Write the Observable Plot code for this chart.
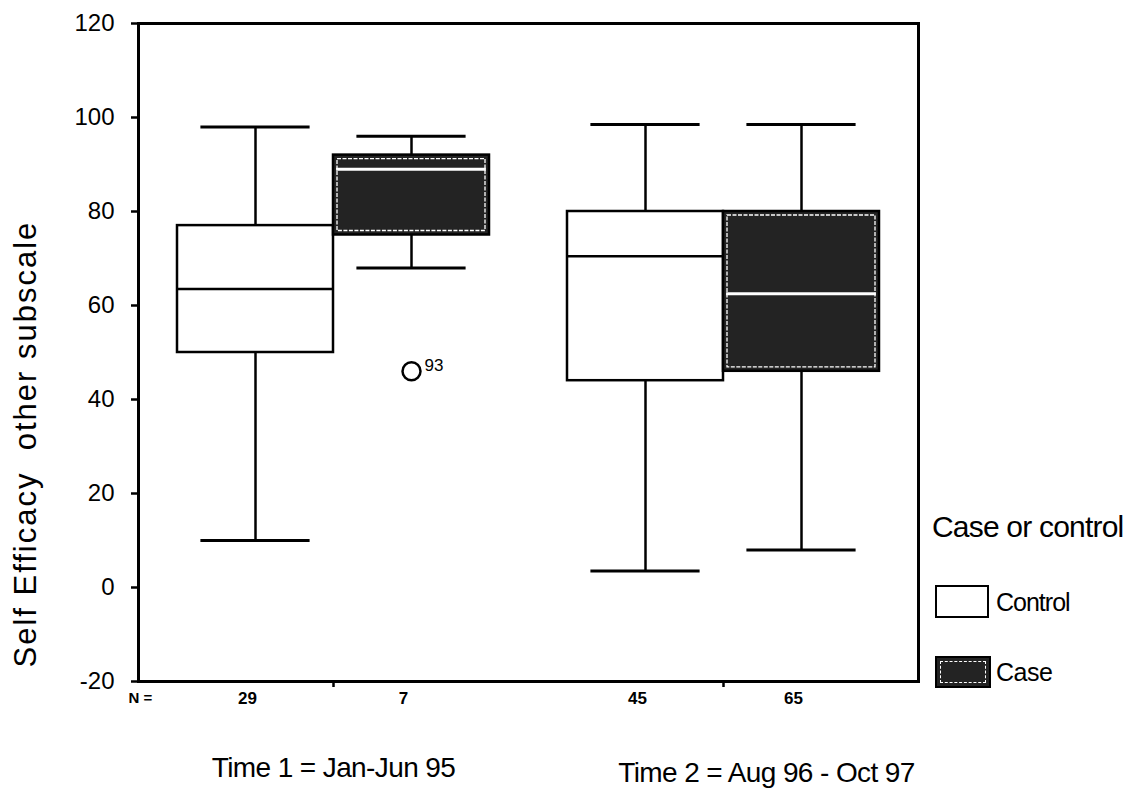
<!DOCTYPE html>
<html><head><meta charset="utf-8">
<script src="https://cdn.jsdelivr.net/npm/d3@7"></script>
<script src="https://cdn.jsdelivr.net/npm/@observablehq/plot@0.6"></script>
<style>
body{margin:0;background:#fff;font-family:"Liberation Sans",Arial,sans-serif;}
#wrap{position:relative;width:1148px;height:798px;overflow:hidden;}
.lg{position:absolute;color:#000;line-height:1;white-space:nowrap;}
.sw{position:absolute;box-sizing:border-box;border:2.5px solid #000;}
</style></head><body><div id="wrap"></div><script>
// ---- data ----
const groups = ["Time 1 = Jan-Jun 95", "Time 2 = Aug 96 - Oct 97"];
const seriesNames = ["Control", "Case"];
const boxGroup = [0, 0, 1, 1];
const boxSeries = ["Control", "Case", "Control", "Case"];
const nValues = [29, 7, 45, 65];
const whiskerLow = [10, 68, 3.5, 8];
const q1 = [50, 75, 44, 46];
const median = [63.5, 89, 70.5, 62.5];
const q3 = [77, 92, 80, 80];
const whiskerHigh = [98, 96, 98.5, 98.5];
const outlierBox = [1];
const outlierValue = [46];
const outlierLabel = ["93"];
const yTicks = [-20, 0, 20, 40, 60, 80, 100, 120];
const yTitle = "Self Efficacy  other subscale";
const legendTitle = "Case or control";

// ---- layout ----
const centers = [25, 75];
const half = 10, cap = 7;
const caseFill = "#232323";
const FONT = "Liberation Sans, Arial, sans-serif";

const table = boxSeries.map((s, i) => ({
  series: s, n: nValues[i], lo: whiskerLow[i], q1: q1[i], med: median[i], q3: q3[i], hi: whiskerHigh[i],
  cx: centers[boxGroup[i]] + (s === "Control" ? -half : half)
}));
const caseRows = table.filter(d => d.series === "Case");
const ctrlRows = table.filter(d => d.series === "Control");
const outRows = outlierBox.map((b, i) => ({cx: table[b].cx, value: outlierValue[i], label: outlierLabel[i]}));
const groupRows = groups.map((g, i) => ({label: g, cx: centers[i]}));

const svg = Plot.plot({
  width: 1148, height: 798,
  marginLeft: 138, marginRight: 230, marginTop: 23, marginBottom: 117,
  style: {fontFamily: FONT, background: "white", color: "black"},
  x: {domain: [0, 100]},
  y: {domain: [-20, 120]},
  marks: [
    Plot.ruleX(table, {x: "cx", y1: "q3", y2: "hi", stroke: "black", strokeWidth: 2.5}),
    Plot.ruleX(table, {x: "cx", y1: "lo", y2: "q1", stroke: "black", strokeWidth: 2.5}),
    Plot.ruleY(table, {y: "hi", x1: d => d.cx - cap, x2: d => d.cx + cap, stroke: "black", strokeWidth: 3}),
    Plot.ruleY(table, {y: "lo", x1: d => d.cx - cap, x2: d => d.cx + cap, stroke: "black", strokeWidth: 3}),
    Plot.rect(table, {x1: d => d.cx - half, x2: d => d.cx + half, y1: "q1", y2: "q3",
      fill: d => d.series === "Case" ? caseFill : "white", stroke: "black", strokeWidth: 2.5}),
    Plot.rect(caseRows, {x1: d => d.cx - half, x2: d => d.cx + half, y1: "q1", y2: "q3",
      fill: "none", stroke: "white", strokeWidth: 1.3, strokeDasharray: "4,1.5", inset: 4}),
    Plot.ruleY(ctrlRows, {y: "med", x1: d => d.cx - half, x2: d => d.cx + half, stroke: "black", strokeWidth: 2.5}),
    Plot.ruleY(caseRows, {y: "med", x1: d => d.cx - half + 0.4, x2: d => d.cx + half - 0.4, stroke: "white", strokeWidth: 3}),
    Plot.dot(outRows, {x: "cx", y: "value", r: 9, stroke: "black", strokeWidth: 2.5, fill: "none"}),
    Plot.text(outRows, {x: "cx", y: "value", text: "label", dx: 13, dy: -6, textAnchor: "start", fontSize: 17}),
    Plot.frame({stroke: "black", strokeWidth: 3}),
    Plot.axisY({ticks: yTicks, tickFormat: d => String(d), tickSize: 7, tickPadding: 17, fontSize: 24, label: null, strokeWidth: 2.5}),
    Plot.axisX({ticks: centers, tickSize: 6, tickFormat: () => "", label: null, strokeWidth: 2.5}),
    Plot.text(table, {x: "cx", text: d => String(d.n), frameAnchor: "bottom", dx: -8, dy: 22, fontSize: 17, fontWeight: "bold"}),
    Plot.text(["N ="], {frameAnchor: "bottom-left", dx: -10, dy: 21, fontSize: 15, fontWeight: "bold"}),
    Plot.text([groupRows[0]], {x: "cx", text: "label", frameAnchor: "bottom", dy: 95, fontSize: 28}),
    Plot.text([groupRows[1]], {x: "cx", text: "label", frameAnchor: "bottom", dx: 43, dy: 100, fontSize: 28}),
    Plot.text([yTitle], {frameAnchor: "bottom-left", rotate: -90, textAnchor: "start", dx: -103, dy: -14, fontSize: 31})
  ]
});

const sel = d3.select(svg);
sel.selectAll("text").each(function() {
  const t = this.textContent;
  if (t === yTitle) { this.style.letterSpacing = "2px"; this.style.whiteSpace = "pre"; this.setAttribute("xml:space", "preserve"); }
  if (groups.includes(t)) { this.style.letterSpacing = "-0.6px"; }
});
const wrap = document.getElementById("wrap");
wrap.appendChild(svg);

// legend
function add(html) { wrap.insertAdjacentHTML("beforeend", html); }
add(`<div class="lg" style="left:932px;top:512px;font-size:30px;letter-spacing:-0.8px;">${legendTitle}</div>`);
add(`<div class="sw" style="left:935px;top:585px;width:54px;height:33px;background:#fff;"></div>`);
add(`<div class="lg" style="left:996px;top:590px;font-size:25px;letter-spacing:-1px;">${seriesNames[0]}</div>`);
add(`<div class="sw" style="left:935px;top:656px;width:56px;height:32px;background:${caseFill};outline:1px dashed #fff;outline-offset:-6px;"></div>`);
add(`<div class="lg" style="left:996px;top:660px;font-size:25px;letter-spacing:-0.5px;">${seriesNames[1]}</div>`);
</script></body></html>
